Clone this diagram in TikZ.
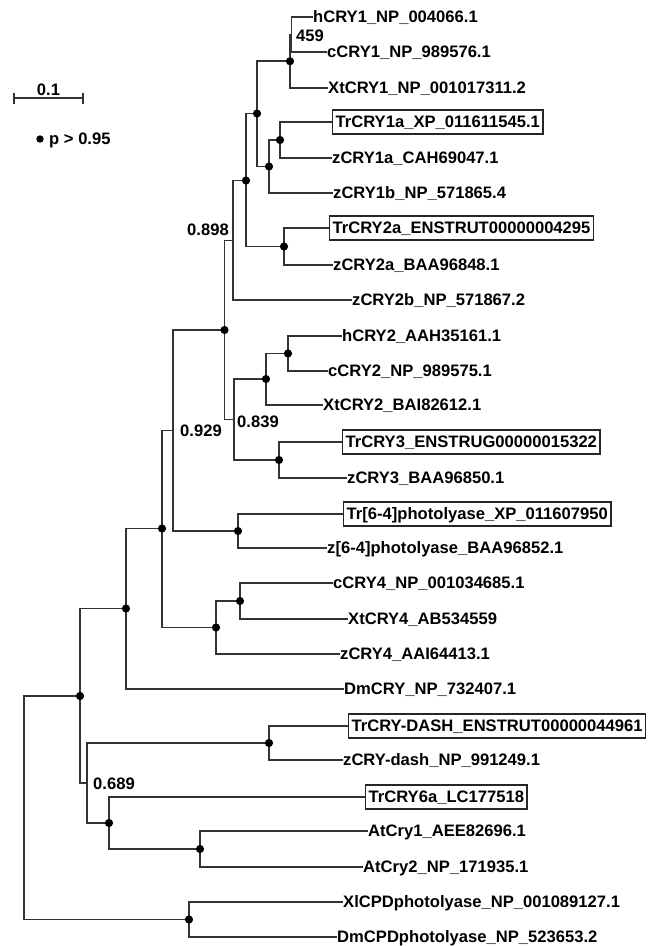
\documentclass[tikz,border=0pt]{standalone}
\usepackage{fontspec}
\setmainfont{Liberation Sans}
\begin{document}
\begin{tikzpicture}[x=1pt,y=-1pt,
  branch/.style={line width=1.8pt, draw=black!80},
  dot/.style={circle, fill=black, inner sep=0pt, minimum size=8.2pt},
  leaf/.style={anchor=west, inner xsep=0pt, inner ysep=0pt, text height=11.8pt, text depth=0pt,
    font=\fontsize{16.6}{19}\selectfont\bfseries},
  leafbox/.style={leaf, draw=black!85, line width=1.4pt, inner xsep=3pt, inner ysep=6pt},
  support/.style={leaf}]
\useasboundingbox (0,0) rectangle (648,946);

% leaves
\node[leaf] (l1) at (313,17) {hCRY1\_NP\_004066.1};
\node[leaf] (l2) at (327,52) {cCRY1\_NP\_989576.1};
\node[leaf] (l3) at (328,88) {XtCRY1\_NP\_001017311.2};
\node[leafbox] (l4) at (332,122) {TrCRY1a\_XP\_011611545.1};
\node[leaf] (l5) at (332,158) {zCRY1a\_CAH69047.1};
\node[leaf] (l6) at (333,193) {zCRY1b\_NP\_571865.4};
\node[leafbox] (l7) at (329,228) {TrCRY2a\_ENSTRUT00000004295};
\node[leaf] (l8) at (333,265) {zCRY2a\_BAA96848.1};
\node[leaf] (l9) at (352,300) {zCRY2b\_NP\_571867.2};
\node[leaf] (l10) at (342,336) {hCRY2\_AAH35161.1};
\node[leaf] (l11) at (328,371) {cCRY2\_NP\_989575.1};
\node[leaf] (l12) at (323,405) {XtCRY2\_BAI82612.1};
\node[leafbox] (l13) at (342,442) {TrCRY3\_ENSTRUG00000015322};
\node[leaf] (l14) at (347,478) {zCRY3\_BAA96850.1};
\node[leafbox] (l15) at (343,514) {Tr[6-4]photolyase\_XP\_011607950};
\node[leaf] (l16) at (327,548) {z[6-4]photolyase\_BAA96852.1};
\node[leaf] (l17) at (333,583) {cCRY4\_NP\_001034685.1};
\node[leaf] (l18) at (348,619) {XtCRY4\_AB534559};
\node[leaf] (l19) at (340,654) {zCRY4\_AAI64413.1};
\node[leaf] (l20) at (344,689) {DmCRY\_NP\_732407.1};
\node[leafbox] (l21) at (348,726) {TrCRY-DASH\_ENSTRUT00000044961};
\node[leaf] (l22) at (343,760) {zCRY-dash\_NP\_991249.1};
\node[leafbox] (l23) at (365,797) {TrCRY6a\_LC177518};
\node[leaf] (l24) at (368,831) {AtCry1\_AEE82696.1};
\node[leaf] (l25) at (363,867) {AtCry2\_NP\_171935.1};
\node[leaf] (l26) at (343,902) {XlCPDphotolyase\_NP\_001089127.1};
\node[leaf] (l27) at (337,937) {DmCPDphotolyase\_NP\_523653.2};

% internal nodes
\coordinate (hc) at (291.5,34.5);
\coordinate (A) at (290,61.25);
\coordinate (B) at (280,140);
\coordinate (C) at (269,166.5);
\coordinate (D) at (257,113.5);
\coordinate (E) at (284,246.5);
\coordinate (F) at (246,180.5);
\coordinate (G) at (233,240.5);
\coordinate (H) at (288,353.5);
\coordinate (I) at (266,379);
\coordinate (J) at (279,460);
\coordinate (K) at (234,419.5);
\coordinate (L) at (224.5,330);
\coordinate (M) at (238,531);
\coordinate (N) at (173,430.5);
\coordinate (O) at (240,601);
\coordinate (P) at (216,627.5);
\coordinate (Q) at (162,528.5);
\coordinate (R) at (126,608.5);
\coordinate (S) at (269,743);
\coordinate (T) at (200,849);
\coordinate (U) at (109,823);
\coordinate (V) at (87,783);
\coordinate (W) at (80,696);
\coordinate (X) at (189,919.5);
\coordinate (Root) at (24,808);

% branches
\draw[branch] (Root) |- (W);
\draw[branch] (Root) |- (X);
\draw[branch] (W) |- (R);
\draw[branch] (W) |- (V);
\draw[branch] (R) |- (Q);
\draw[branch] (R) |- (l20.west);
\draw[branch] (Q) |- (N);
\draw[branch] (Q) |- (P);
\draw[branch] (N) |- (L);
\draw[branch] (N) |- (M);
\draw[branch] (L) |- (G);
\draw[branch] (L) |- (K);
\draw[branch] (G) |- (F);
\draw[branch] (G) |- (l9.west);
\draw[branch] (F) |- (D);
\draw[branch] (F) |- (E);
\draw[branch] (D) |- (A);
\draw[branch] (D) |- (C);
\draw[branch] (A) |- (hc);
\draw[branch] (A) |- (l3.west);
\draw[branch] (hc) |- (l1.west);
\draw[branch] (hc) |- (l2.west);
\draw[branch] (C) |- (B);
\draw[branch] (C) |- (l6.west);
\draw[branch] (B) |- (l4.west);
\draw[branch] (B) |- (l5.west);
\draw[branch] (E) |- (l7.west);
\draw[branch] (E) |- (l8.west);
\draw[branch] (K) |- (I);
\draw[branch] (K) |- (J);
\draw[branch] (I) |- (H);
\draw[branch] (I) |- (l12.west);
\draw[branch] (H) |- (l10.west);
\draw[branch] (H) |- (l11.west);
\draw[branch] (J) |- (l13.west);
\draw[branch] (J) |- (l14.west);
\draw[branch] (M) |- (l15.west);
\draw[branch] (M) |- (l16.west);
\draw[branch] (P) |- (O);
\draw[branch] (P) |- (l19.west);
\draw[branch] (O) |- (l17.west);
\draw[branch] (O) |- (l18.west);
\draw[branch] (V) |- (S);
\draw[branch] (V) |- (U);
\draw[branch] (S) |- (l21.west);
\draw[branch] (S) |- (l22.west);
\draw[branch] (U) |- (l23.west);
\draw[branch] (U) |- (T);
\draw[branch] (T) |- (l24.west);
\draw[branch] (T) |- (l25.west);
\draw[branch] (X) |- (l26.west);
\draw[branch] (X) |- (l27.west);

% support dots
\foreach \n in {A,B,C,D,E,F,H,I,J,L,M,O,P,Q,R,S,T,U,W,X}
  \node[dot] (d\n) at (\n) {};

% support values
\node[support] (s459) at (296,36) {459};
\node[support] (s898) at (187,230) {0.898};
\node[support] (s929) at (180,431) {0.929};
\node[support] (s839) at (237,422) {0.839};
\node[support] (s689) at (93,784) {0.689};

% scale bar
\coordinate (sb1) at (14,98);
\coordinate (sb2) at (83,98);
\draw[branch, line width=1.5pt] (sb1) -- (sb2);
\draw[branch, line width=1.5pt] ([yshift=5.5pt]sb1) -- ([yshift=-5.5pt]sb1);
\draw[branch, line width=1.5pt] ([yshift=5.5pt]sb2) -- ([yshift=-5.5pt]sb2);
\node[leaf, anchor=center] (sblabel) at (48.5,90) {0.1};

% legend
\node[dot, minimum size=7.4pt] (legdot) at (40,139) {};
\node[leaf] (legtext) at (49,139) {p > 0.95};
\end{tikzpicture}
\end{document}
